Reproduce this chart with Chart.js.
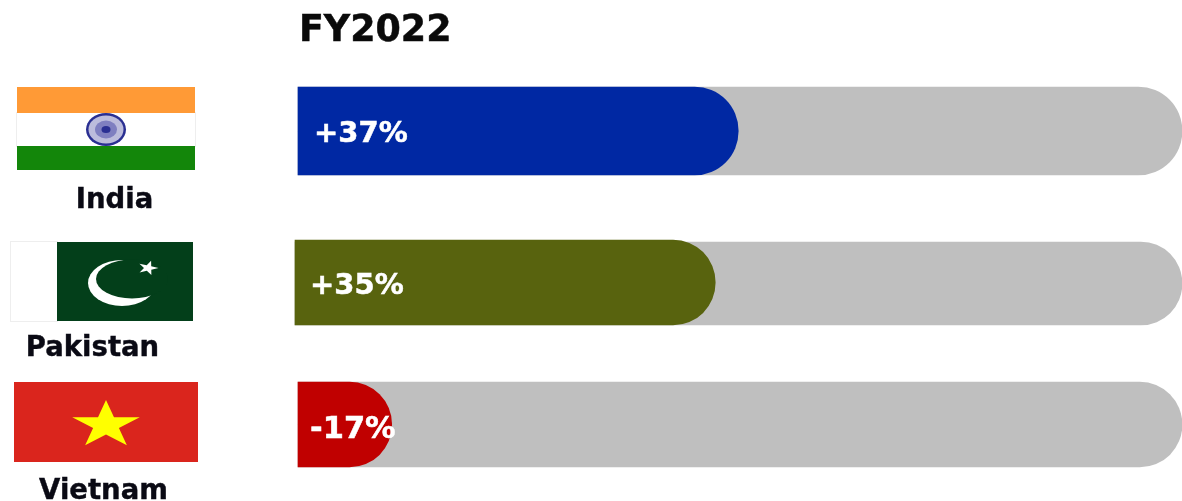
<!DOCTYPE html>
<html>
<head>
<meta charset="utf-8">
<style>
html,body{margin:0;padding:0;background:#fff;overflow:hidden}
#wrap{position:relative;width:1182px;height:501px}
canvas{filter:blur(0.45px)}
</style>
<script src="https://cdn.jsdelivr.net/npm/chart.js@4/dist/chart.umd.min.js"></script>
</head>
<body>
<div id="wrap"><canvas id="c" width="1182" height="501"></canvas></div>
<script>
const chartTitle = "FY2022";
const countries = ["India", "Pakistan", "Vietnam"];
const changeLabels = ["+37%", "+35%", "-17%"];
const filledShare = [49.8, 47.2, 10.6];
const trackShare = [100, 100, 100];
const fillColors = ["#0028a3", "#58630e", "#c00000"];
const trackColor = "#bfbfbf";

const FONT = '"DejaVu Sans", sans-serif';
// small per-row layout offsets of the source picture
const rowTweaks = [
  {fillDy: 0, trackDy: 0, trackH: 88, fillH: 88, dBase: 0, labelDx: 16, labelDy: 11, labelPx: 29},
  {fillDy: 4.75, trackDy: 5.75, trackH: 83, fillH: 85, dBase: -3, labelDx: 15, labelDy: 11.5, labelPx: 29},
  {fillDy: 0, trackDy: 0, trackH: 85, fillH: 85, dBase: 0, labelDx: 12, labelDy: 13.5, labelPx: 30.5}
];

function star(ctx, cx, cy, rx, ry, color, rot) {
  ctx.beginPath();
  for (let i = 0; i < 10; i++) {
    const a = -Math.PI / 2 + (rot || 0) + i * Math.PI / 5;
    const k = i % 2 ? 0.382 : 1;
    ctx.lineTo(cx + Math.cos(a) * rx * k, cy + Math.sin(a) * ry * k);
  }
  ctx.closePath();
  ctx.fillStyle = color;
  ctx.fill();
}

function drawFlags(ctx) {
  // India
  ctx.fillStyle = "#ffffff"; ctx.fillRect(17, 113, 178, 33);
  ctx.strokeStyle = "#eeeeee"; ctx.lineWidth = 1; ctx.strokeRect(16.5, 112.5, 179, 34);
  ctx.fillStyle = "#ff9a36"; ctx.fillRect(17, 87, 178, 26);
  ctx.fillStyle = "#13860a"; ctx.fillRect(17, 146, 178, 24);
  ctx.beginPath(); ctx.ellipse(106, 129.5, 20, 16.5, 0, 0, 7); ctx.fillStyle = "#2a2f92"; ctx.fill();
  ctx.beginPath(); ctx.ellipse(106, 129.5, 17.5, 14, 0, 0, 7); ctx.fillStyle = "#bcbcdc"; ctx.fill();
  ctx.beginPath(); ctx.ellipse(106, 129.5, 11, 9, 0, 0, 7); ctx.fillStyle = "#7f7fc0"; ctx.fill();
  ctx.beginPath(); ctx.ellipse(106, 129.5, 4.5, 3.5, 0, 0, 7); ctx.fillStyle = "#2a2f92"; ctx.fill();

  // Pakistan
  ctx.fillStyle = "#ffffff"; ctx.fillRect(11, 242, 46, 79);
  ctx.strokeStyle = "#eeeeee"; ctx.strokeRect(10.5, 241.5, 47, 80);
  ctx.fillStyle = "#033f1a"; ctx.fillRect(57, 242, 136, 79);
  ctx.beginPath(); ctx.ellipse(122, 283, 34, 23, 0, 0, 7); ctx.fillStyle = "#ffffff"; ctx.fill();
  ctx.beginPath(); ctx.ellipse(132, 279, 36, 19.5, 0, 0, 7); ctx.fillStyle = "#033f1a"; ctx.fill();
  star(ctx, 148, 268, 10.5, 7.5, "#ffffff", 0.3);

  // Vietnam
  ctx.fillStyle = "#da251d"; ctx.fillRect(14, 382, 184, 80);
  star(ctx, 106, 425, 35.5, 25, "#ffff00", 0);
}

const pic = {
  id: "pic",
  afterDatasetsUpdate(chart) {
    [0, 1].forEach(ds => {
      chart.getDatasetMeta(ds).data.forEach((el, i) => {
        const t = rowTweaks[i];
        el.height = ds === 0 ? t.fillH : t.trackH;
        el.y += ds === 0 ? t.fillDy : t.trackDy;
        el.base += t.dBase;
      });
    });
  },
  afterDatasetsDraw(chart) {
    const ctx = chart.ctx;
    ctx.save();
    const fills = chart.getDatasetMeta(0).data;
    ctx.textBaseline = "alphabetic";
    ctx.textAlign = "left";
    ctx.fillStyle = "#ffffff";
    ctx.strokeStyle = "#ffffff";
    ctx.lineWidth = 0.5;
    fills.forEach((el, i) => {
      const t = rowTweaks[i];
      ctx.font = "bold " + t.labelPx + "px " + FONT;
      ctx.fillText(changeLabels[i], el.base + t.labelDx, el.y + t.labelDy);
      ctx.strokeText(changeLabels[i], el.base + t.labelDx, el.y + t.labelDy);
    });
    ctx.fillStyle = "#0a0a0a";
    ctx.strokeStyle = "#0a0a0a";
    ctx.font = "bold 36.4px " + FONT;
    ctx.fillText(chartTitle, 299, 41);
    ctx.strokeText(chartTitle, 299, 41);
    drawFlags(ctx);
    ctx.font = "bold 27.5px " + FONT;
    ctx.fillStyle = "#0a0a14";
    ctx.strokeStyle = "#0a0a14";
    ctx.lineWidth = 0.4;
    ctx.textAlign = "center";
    const nameX = [114.5, 92.5, 103.5];
    const nameY = [208, 356, 499];
    countries.forEach((n, i) => {
      ctx.fillText(n, nameX[i], nameY[i]);
      ctx.strokeText(n, nameX[i], nameY[i]);
    });
    ctx.restore();
  }
};

new Chart(document.getElementById("c"), {
  type: "bar",
  plugins: [pic],
  data: {
    labels: countries,
    datasets: [
      {label: "Change", data: filledShare, backgroundColor: fillColors, grouped: false, order: 0, clip: false,
       borderRadius: {topLeft: 0, bottomLeft: 0, topRight: 46, bottomRight: 46}, borderSkipped: false},
      {label: "Track", data: trackShare, backgroundColor: trackColor, grouped: false, order: 1, clip: false,
       borderRadius: {topLeft: 0, bottomLeft: 0, topRight: 46, bottomRight: 46}, borderSkipped: false}
    ]
  },
  options: {
    indexAxis: "y",
    responsive: false,
    animation: false,
    events: [],
    barThickness: 86,
    layout: {padding: {left: 298, right: 0, top: 57.6, bottom: 3.1}},
    scales: {
      x: {min: 0, max: 100, display: false},
      y: {display: false}
    },
    plugins: {legend: {display: false}, title: {display: false}, tooltip: {enabled: false}}
  }
});
</script>
</body>
</html>
